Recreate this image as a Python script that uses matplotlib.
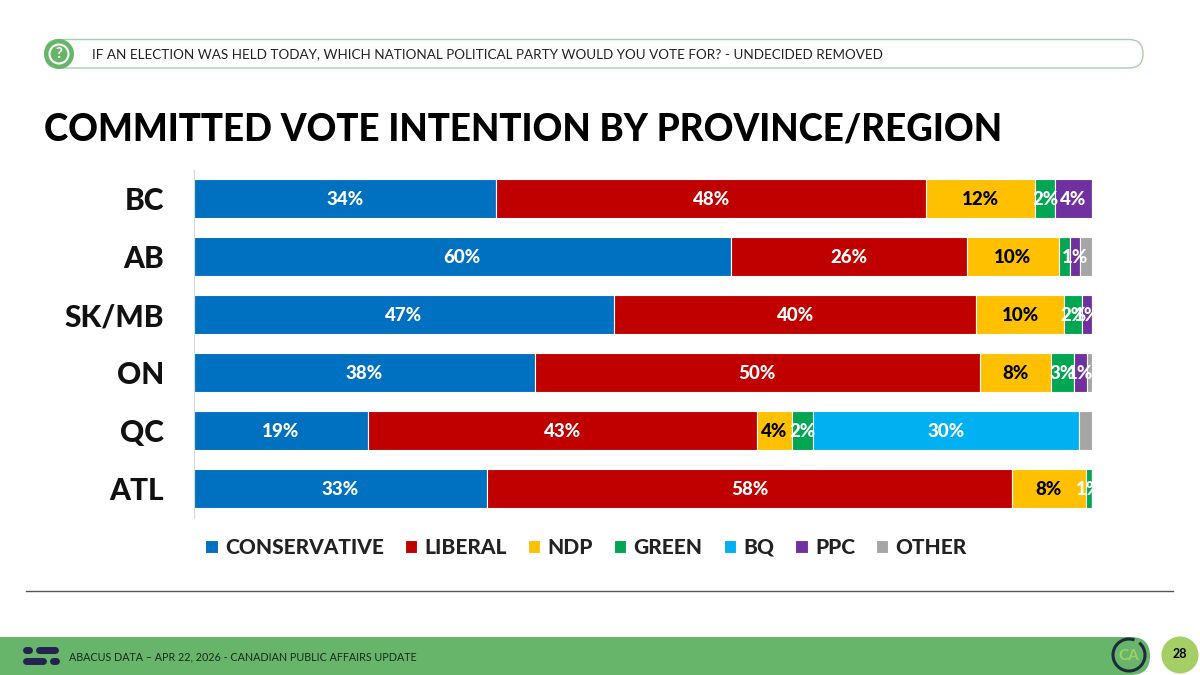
import numpy as np
import matplotlib
matplotlib.use('Agg')
import matplotlib.pyplot as plt
from matplotlib.patches import FancyBboxPatch, Circle, Arc

plt.rcParams['font.family'] = ['Lato', 'DejaVu Sans']

# values
regions = ['BC', 'AB', 'SK/MB', 'ON', 'QC', 'ATL']
conservative = [33.7, 59.8, 46.8, 38.0, 19.4, 32.7]
liberal = [47.8, 26.3, 40.3, 49.5, 43.3, 58.4]
ndp = [12.2, 10.2, 9.8, 7.9, 3.9, 8.2]
green = [2.2, 1.2, 2.0, 2.6, 2.3, 0.7]
bq = [0, 0, 0, 0, 29.7, 0]
ppc = [4.1, 1.2, 1.1, 1.4, 0, 0]
other = [0, 1.3, 0, 0.6, 1.4, 0]

series_names = ['CONSERVATIVE', 'LIBERAL', 'NDP', 'GREEN', 'BQ', 'PPC', 'OTHER']
series_values = [conservative, liberal, ndp, green, bq, ppc, other]
series_colors = ['#0070C0', '#C00000', '#FFC000', '#00A651', '#00B0F0', '#7030A0', '#A6A6A6']
label_colors = ['white', 'white', 'black', 'white', 'white', 'white', 'white']

fig = plt.figure(figsize=(12, 6.75), dpi=100)

# slide furniture, pixel coordinates
bg = fig.add_axes([0, 0, 1, 1])
bg.set_xlim(0, 1200)
bg.set_ylim(675, 0)
bg.axis('off')

bg.add_patch(FancyBboxPatch((45, 39.5), 1098, 28.5, boxstyle='round,pad=0,rounding_size=14',
                            fc='white', ec='#A4D1A6', lw=1))
bg.add_patch(Circle((59, 54), 15, fc='#66B56B', ec='none'))
bg.add_patch(Circle((59, 54), 9.5, fc='none', ec='white', lw=1.5))
bg.text(59, 54.5, '?', color='white', fontsize=11, fontweight='bold', ha='center', va='center')
bg.text(92, 54.5, 'IF AN ELECTION WAS HELD TODAY, WHICH NATIONAL POLITICAL PARTY WOULD YOU VOTE FOR? - UNDECIDED REMOVED',
        fontsize=9.7, color='#222222', ha='left', va='center')
bg.text(44, 129.5, 'COMMITTED VOTE INTENTION BY PROVINCE/REGION', fontsize=26.5, fontweight=900,
        color='black', ha='left', va='center')
bg.plot([26, 1173], [590.5, 590.5], color='#555555', lw=1)

# footer
bg.add_patch(FancyBboxPatch((-40, 637), 1190, 38, boxstyle='round,pad=0,rounding_size=19',
                            fc='#66B56B', ec='none'))
bg.plot([26, 29], [649.5, 649.5], color='#26224F', lw=5, solid_capstyle='round')
bg.plot([39, 55], [649.5, 649.5], color='#26224F', lw=5, solid_capstyle='round')
bg.plot([26, 43], [661, 661], color='#26224F', lw=5, solid_capstyle='round')
bg.plot([53, 56], [661, 661], color='#26224F', lw=5, solid_capstyle='round')
bg.text(69, 656.5, 'ABACUS DATA \u2013 APR 22, 2026 - CANADIAN PUBLIC AFFAIRS UPDATE',
        fontsize=7.75, color='#1a2a1a', ha='left', va='center')
bg.add_patch(Arc((1129, 655), 32, 32, theta1=-50, theta2=290, ec='#1F2A3A', lw=2.2))
bg.text(1129, 655.5, 'CA', fontsize=11, fontweight='bold', color='#A5CE64', ha='center', va='center')
bg.add_patch(Circle((1180, 655), 18.5, fc='#A5CE64', ec='none'))
bg.text(1180, 654.5, '28', fontsize=9, fontweight='bold', color='black', ha='center', va='center')

# chart
ax = fig.add_axes([193.5 / 1200, 1 - 517.5 / 675, 898.5 / 1200, 348 / 675])
ax.patch.set_alpha(0)
y = np.arange(len(regions))
left = np.zeros(len(regions))
for name, vals, col, lab_col in zip(series_names, series_values, series_colors, label_colors):
    vals = np.array(vals)
    ax.barh(y, vals, left=left, height=0.67, color=col, edgecolor='white', linewidth=0.8, label=name)
    for i, v in enumerate(vals):
        # small slices without a label on the slide
        if v < 0.6 or name == 'OTHER' or (name == 'GREEN' and regions[i] == 'AB'):
            continue
        ax.text(left[i] + v / 2, i + 0.02, '%d%%' % round(v), color=lab_col, fontsize=13.5, fontweight=900,
                ha='center', va='center', clip_on=True)
    left += vals

ax.set_xlim(0, 100)
ax.set_ylim(len(regions) - 0.5, -0.5)
ax.set_xticks([])
ax.set_yticks(y)
ax.set_yticklabels(regions, fontsize=21.5, fontweight=900, color='#111111')
ax.tick_params(axis='y', length=0, pad=21)
for s in ['top', 'right', 'bottom']:
    ax.spines[s].set_visible(False)
ax.spines['left'].set_color('#D9D9D9')

ax.legend(loc='center', bbox_to_anchor=(0.437, -0.086), ncols=7, frameon=False,
          handlelength=0.6, handleheight=0.6, handletextpad=0.35, columnspacing=1.0,
          prop={'weight': 900, 'size': 15}, labelcolor='#222222')

fig.savefig('out.png', dpi=100)
